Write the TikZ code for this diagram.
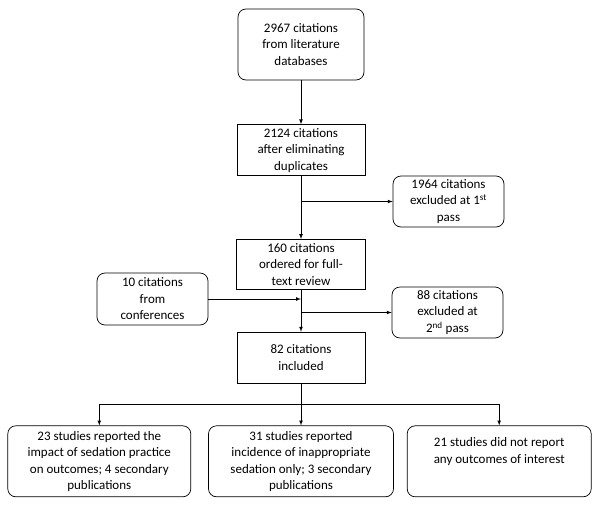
\documentclass[tikz,border=0pt]{standalone}
\usepackage{fontspec}
\setmainfont{Carlito}
\usetikzlibrary{positioning}

\begin{document}
\begin{tikzpicture}[x=1pt,y=-1pt,-,>=latex,line width=0.7pt,node distance=44pt,
    main node/.style={draw,rectangle,align=center,inner sep=2pt,font=\fontsize{13}{16.5}\selectfont},
    round node/.style={main node,rounded corners=8pt}]
    \useasboundingbox (0,0) rectangle (600,504);

    \node[round node,minimum width=126pt,minimum height=71pt] (1) at (301,44.5) {2967 citations\\from literature\\databases};
    \node[main node,minimum width=128pt,minimum height=51pt] (2) [below=44pt of 1] {2124 citations\\after eliminating\\duplicates};
    \node[main node,minimum width=129pt,minimum height=50pt] (4) [below=63pt of 2] {160 citations\\ordered for full-\\text review};
    \node[main node,minimum width=128pt,minimum height=51pt] (7) [below=42pt of 4] {82 citations\\included};

    \node[round node,minimum width=111pt,minimum height=51pt] (3) at (448.5,201.5) {1964 citations\\excluded at 1\textsuperscript{st}\\pass};
    \node[round node,minimum width=111pt,minimum height=52pt] (5) at (152.5,299) {10 citations\\from\\conferences};
    \node[round node,minimum width=111pt,minimum height=51pt] (6) at (447.5,312.5) {88 citations\\excluded at\\2\textsuperscript{nd} pass};

    \node[round node,minimum width=185pt,minimum height=71pt] (9) [below=42pt of 7] {31 studies reported\\incidence of inappropriate\\sedation only; 3 secondary\\publications};
    \node[round node,minimum width=183pt,minimum height=71pt] (8) [left=17pt of 9] {23 studies reported the\\impact of sedation practice\\on outcomes; 4 secondary\\publications};
    \node[round node,minimum width=184pt,minimum height=71pt] (10) [right=13pt of 9] {21 studies did not report\\any outcomes of interest\\\strut};

    \coordinate (b1) at (2.south |- 3.west);
    \coordinate (j1) at (4.south |- 5.east);
    \coordinate (b2) at (4.south |- 6.west);
    \coordinate[below=21pt of 7] (s);

    \path[->]
        (1) edge (2)
        (2) edge (4)
        (b1) edge (3)
        (4) edge (7)
        (5) edge (j1)
        (b2) edge (6)
        (s) edge (9)
        ;
    \draw (7) -- (s);
    \draw[->] (s) -| (8);
    \draw[->] (s) -| (10);
\end{tikzpicture}
\end{document}
